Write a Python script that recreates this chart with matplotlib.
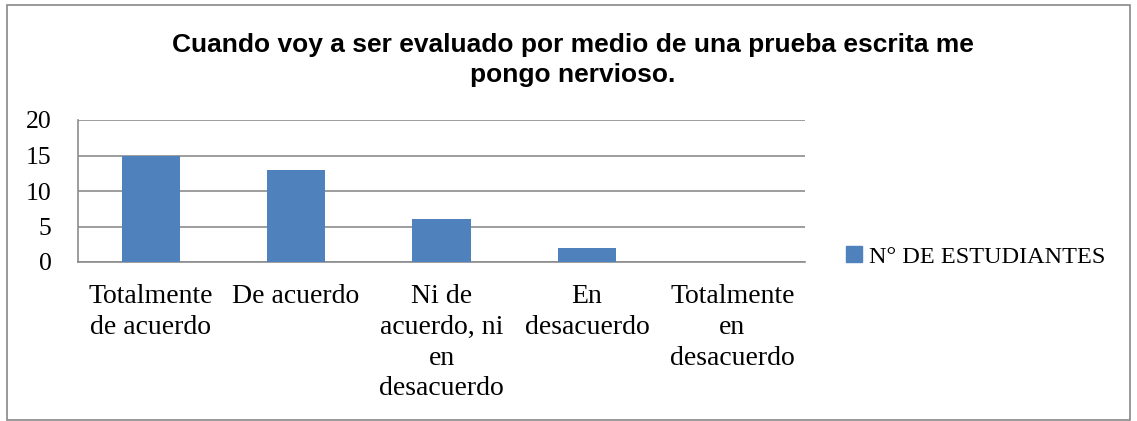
import matplotlib
matplotlib.use("Agg")
import matplotlib.pyplot as plt
from matplotlib.patches import Rectangle, Patch

categories = ["Totalmente\nde acuerdo", "De acuerdo", "Ni de\nacuerdo, ni\nen\ndesacuerdo",
              "En\ndesacuerdo", "Totalmente\nen\ndesacuerdo"]
values = [15, 13, 6, 2, 0]
series_name = "N° DE ESTUDIANTES"
title = "Cuando voy a ser evaluado por medio de una prueba escrita me\npongo nervioso."
yticks = [0, 5, 10, 15, 20]

W, H = 1137, 421
fig = plt.figure(figsize=(W/100, H/100), dpi=100)
serif = ["Liberation Serif", "DejaVu Serif"]

# outer border
fig.patches.append(Rectangle((7/W, 1 - 420/H), (1130-7)/W, (420-5)/H, transform=fig.transFigure,
                             fill=False, edgecolor="#888888", linewidth=1.2))

ax = fig.add_axes([78/W, 1 - 262/H, (805-78)/W, (262-120)/H])
x = list(range(len(categories)))
ax.bar(x, values, width=0.4, color="#4F81BD", zorder=3, label=series_name)
ax.set_xlim(-0.5, len(categories) - 0.5)
ax.set_ylim(0, 20)
ax.set_yticks(yticks)
ax.set_yticklabels([str(v) for v in yticks], fontfamily=serif, fontsize=18.5)
ax.set_xticks(x)
ax.set_xticklabels(categories, fontfamily=serif, fontsize=20, linespacing=1.3)
ax.tick_params(axis="both", length=0)
ax.tick_params(axis="y", pad=19)
ax.tick_params(axis="x", pad=16)
ax.grid(axis="y", color="#8c8c8c", linewidth=1.2, zorder=0)
for s in ["top", "right"]:
    ax.spines[s].set_visible(False)
for s in ["left", "bottom"]:
    ax.spines[s].set_color("#8c8c8c")
    ax.spines[s].set_linewidth(1.2)

fig.text(573/W, 1 - 60/H, title, ha="center", va="center", fontsize=19, fontweight="bold",
         family=["Liberation Sans", "DejaVu Sans"], linespacing=1.3)

leg = fig.legend(handles=[Patch(color="#4F81BD", label=series_name)], loc="center left",
                 bbox_to_anchor=(846/W, 1 - 257/H), frameon=False,
                 prop={"family": serif, "size": 17.5}, handlelength=0.65, handleheight=0.65,
                 handletextpad=0.3, borderaxespad=0, borderpad=0)

fig.savefig("out.png", dpi=100)
